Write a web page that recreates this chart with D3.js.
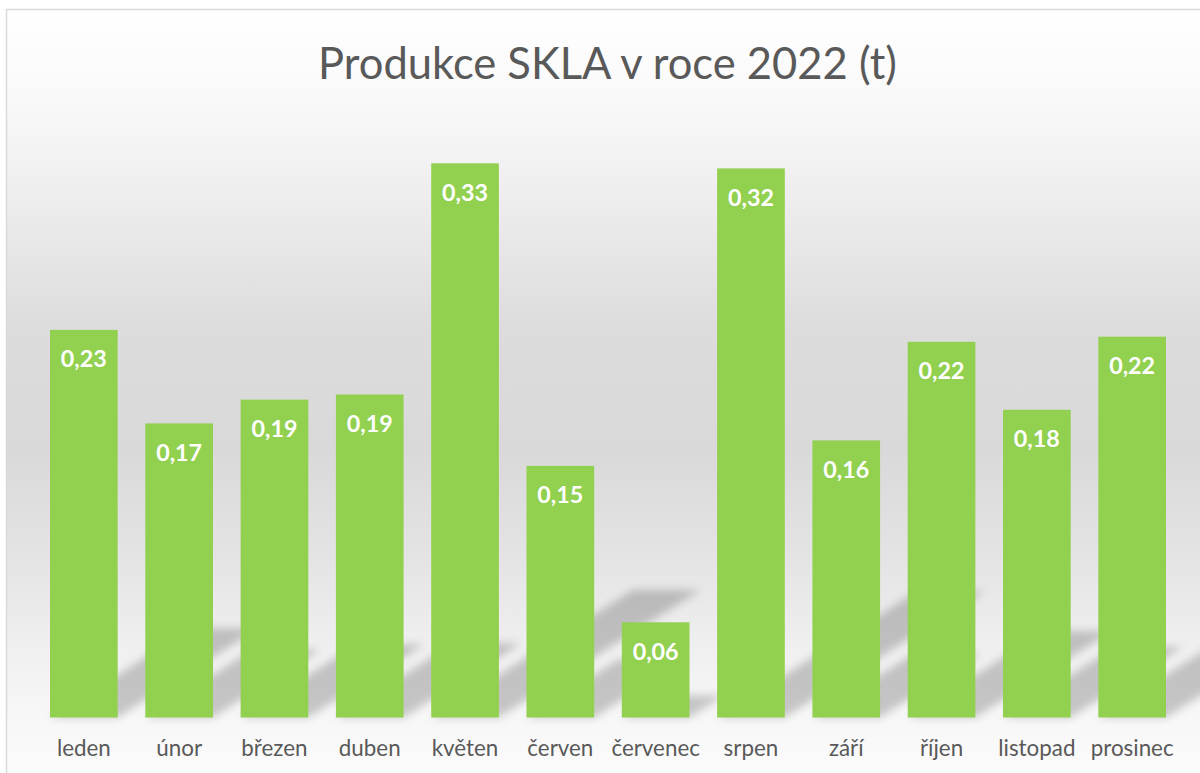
<!DOCTYPE html>
<html>
<head>
<meta charset="utf-8">
<script src="https://cdn.jsdelivr.net/npm/d3@7"></script>
<style>
  html, body { margin: 0; padding: 0; background: #fff; }
  svg { display: block; }
</style>
</head>
<body>
<div id="chart"></div>
<script>
// Produkce SKLA v roce 2022 (t) - sloupcový graf
const months = ["leden", "únor", "březen", "duben", "květen", "červen",
  "červenec", "srpen", "září", "říjen", "listopad", "prosinec"];
const values = [0.228, 0.173, 0.187, 0.190, 0.326, 0.148,
  0.056, 0.323, 0.163, 0.221, 0.181, 0.224];
const yMax = 0.35;
const titleText = "Produkce SKLA v roce 2022 (t)";

const width = 1200, height = 773;
const base = 717.5;
const fontFamily = "Lato, 'Open Sans', sans-serif";
const textGray = "#595959";
const barColor = "#92d050";

const svg = d3.select("#chart").append("svg")
  .attr("width", width)
  .attr("height", height)
  .attr("viewBox", `0 0 ${width} ${height}`);

const defs = svg.append("defs");

// background gradient of the chart area (white -> grey -> white)
const grad = defs.append("linearGradient")
  .attr("id", "bg")
  .attr("gradientUnits", "userSpaceOnUse")
  .attr("x1", 0).attr("y1", 9).attr("x2", 0).attr("y2", height);
[[9, "#ffffff"], [100, "#f9f9f9"], [200, "#ededed"], [330, "#dcdcdc"],
 [450, "#d9d9d9"], [560, "#e4e4e4"], [660, "#f1f1f1"], [717, "#f7f7f7"], [773, "#fbfbfb"]]
  .forEach(([y, c]) => grad.append("stop")
    .attr("offset", (y - 9) / (height - 9)).attr("stop-color", c));

defs.append("filter")
  .attr("id", "blur")
  .attr("filterUnits", "userSpaceOnUse")
  .attr("x", 0).attr("y", 0).attr("width", width + 200).attr("height", height)
  .append("feGaussianBlur").attr("stdDeviation", 4);

svg.append("rect")
  .attr("x", 6.5).attr("y", 9.5)
  .attr("width", 1300).attr("height", 900)
  .attr("fill", "url(#bg)")
  .attr("stroke", "#d9d9d9")
  .attr("stroke-width", 1.5);

const x = d3.scaleBand()
  .domain(months)
  .range([36.2, 1179.8])
  .paddingInner(0.29)
  .paddingOuter(0.145);

const y = d3.scaleLinear()
  .domain([0, yMax])
  .range([base, base - yMax * 1700]);

// perspective shadows (diagonal upper right)
const shadows = svg.append("g").attr("filter", "url(#blur)");
shadows.selectAll("polygon")
  .data(months)
  .join("polygon")
  .attr("points", (m, i) => {
    const x0 = x(m), x1 = x(m) + x.bandwidth();
    const h = base - y(values[i]);
    const dx = 0.364 * h, dy = 0.23 * h;
    return [[x0, base], [x1, base], [x1 + dx, base - dy], [x0 + dx, base - dy]].join(" ");
  })
  .attr("fill", "#000")
  .attr("opacity", 0.2);

svg.append("g").selectAll("rect")
  .data(months)
  .join("rect")
  .attr("x", m => x(m))
  .attr("y", (m, i) => y(values[i]))
  .attr("width", x.bandwidth())
  .attr("height", (m, i) => base - y(values[i]))
  .attr("fill", barColor);

// fit font size of a sample string to a measured width
function fitSize(text, target, weight) {
  const t = svg.append("text")
    .attr("font-family", fontFamily)
    .attr("font-weight", weight)
    .attr("font-size", 100)
    .text(text);
  const w = t.node().getComputedTextLength();
  t.remove();
  return 100 * target / w;
}

const catSize = fitSize("prosinec", 83, "normal");
const valSize = fitSize("0,22", 46, "bold");
const titleSize = fitSize(titleText, 579, "normal");

// x axis labels
svg.append("g").selectAll("text")
  .data(months)
  .join("text")
  .attr("x", m => x(m) + x.bandwidth() / 2)
  .attr("y", 756)
  .attr("text-anchor", "middle")
  .attr("font-family", fontFamily)
  .attr("font-size", catSize)
  .attr("fill", textGray)
  .text(m => m);

// data labels inside end
svg.append("g").selectAll("text")
  .data(months)
  .join("text")
  .attr("x", m => x(m) + x.bandwidth() / 2)
  .attr("y", (m, i) => y(values[i]) + 37.5)
  .attr("text-anchor", "middle")
  .attr("font-family", fontFamily)
  .attr("font-weight", "bold")
  .attr("font-size", valSize)
  .attr("fill", "#fff")
  .text((m, i) => values[i].toFixed(2).replace(".", ","));

svg.append("text")
  .attr("x", 607.5)
  .attr("y", 79)
  .attr("text-anchor", "middle")
  .attr("font-family", fontFamily)
  .attr("font-size", titleSize)
  .attr("fill", textGray)
  .text(titleText);
</script>
</body>
</html>
